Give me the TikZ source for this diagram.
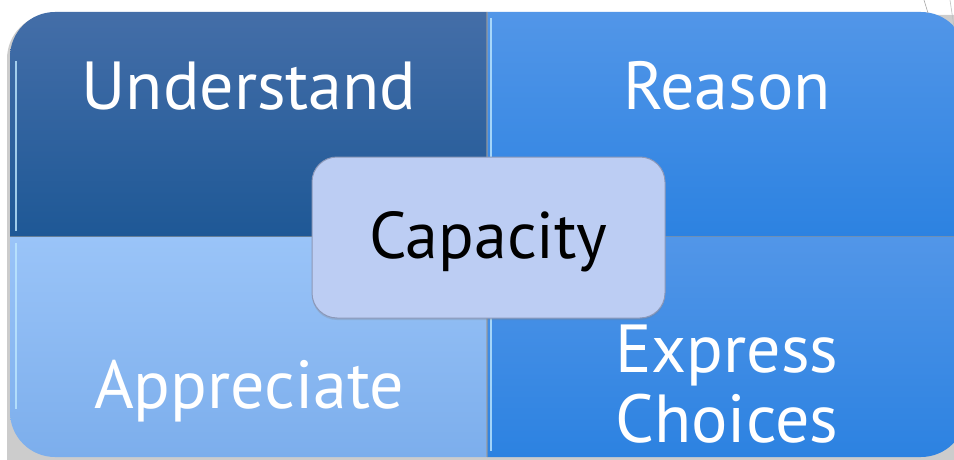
\documentclass[tikz,border=0pt]{standalone}
\usepackage{fontspec}
\setmainfont{PT Sans}
\usepackage{tikz}
\usetikzlibrary{positioning,shadows}
\definecolor{ulTop}{RGB}{68,110,168}
\definecolor{ulBot}{RGB}{30,88,150}
\definecolor{urTop}{RGB}{82,150,232}
\definecolor{urBot}{RGB}{44,130,225}
\definecolor{llTop}{RGB}{154,196,248}
\definecolor{llBot}{RGB}{124,174,236}
\definecolor{lrTop}{RGB}{82,150,232}
\definecolor{lrBot}{RGB}{44,130,225}
\definecolor{capFill}{RGB}{188,205,243}
\definecolor{capEdge}{RGB}{140,152,184}
\definecolor{bevelHi}{RGB}{190,232,255}

\begin{document}
\begin{tikzpicture}[x=1pt,y=1pt]
		\tikzstyle{quad label}=[text=white, font=\fontsize{68}{70}\selectfont, inner sep=0pt, anchor=base, align=center]
		\tikzstyle{bevel}=[draw=bevelHi, line width=1.4pt, opacity=0.8]
		\useasboundingbox (0,0) rectangle (954,459);
		\clip (0,0) rectangle (954,459);
		\fill [white] (0,0) rectangle (954,459);
		\fill [black, opacity=0.2] (7,-2) -- (7,400) arc (180:90:45) -- (920,444) -- (966,444) -- (966,-2) -- cycle;
		\shade [top color=ulTop, bottom color=ulBot] (10,222) -- (10,402) arc (180:90:45) -- (487,447) -- (487,222) -- cycle;
		\shade [top color=urTop, bottom color=urBot] (487,222) -- (487,447) -- (921,447) arc (90:0:45) -- (966,222) -- cycle;
		\shade [top color=llTop, bottom color=llBot] (10,222) -- (10,47) arc (180:270:45) -- (487,2) -- (487,222) -- cycle;
		\shade [top color=lrTop, bottom color=lrBot] (487,222) -- (487,2) -- (921,2) arc (270:360:45) -- (966,222) -- cycle;
		\draw [black!40, opacity=0.6, line width=1.4pt] (487,447) -- (487,2);
		\draw [black!40, opacity=0.6, line width=1.2pt] (10,222.5) -- (966,222.5);
		\draw [bevel] (16,398) -- (16,228);
		\draw [bevel] (16,216) -- (16,50);
		\draw [bevel] (491,441) -- (491,228);
		\draw [bevel] (491,216) -- (491,8);
		\draw [gray!70, line width=0.6pt] (924,459) -- (928,446);
		\draw [gray!50, line width=0.6pt] (950,459) -- (954,432);
		\node (understand) [quad label] at (249,349) {Understand};
		\node (reason) [quad label] at (727,349) {Reason};
		\node (appreciate) [quad label] at (249,51) {Appreciate};
		\node (express) [quad label] at (727,17) {Express\\Choices};
		\node (capacity) [draw=capEdge, fill=capFill, line width=1pt, rounded corners=25pt, minimum width=353pt, minimum height=161pt, text height=56pt, text depth=15pt, font=\fontsize{66}{70}\selectfont, drop shadow={opacity=0.25, shadow xshift=0pt, shadow yshift=-2pt}] at (488.5,221.5) {Capacity};
		\end{tikzpicture}
\end{document}
